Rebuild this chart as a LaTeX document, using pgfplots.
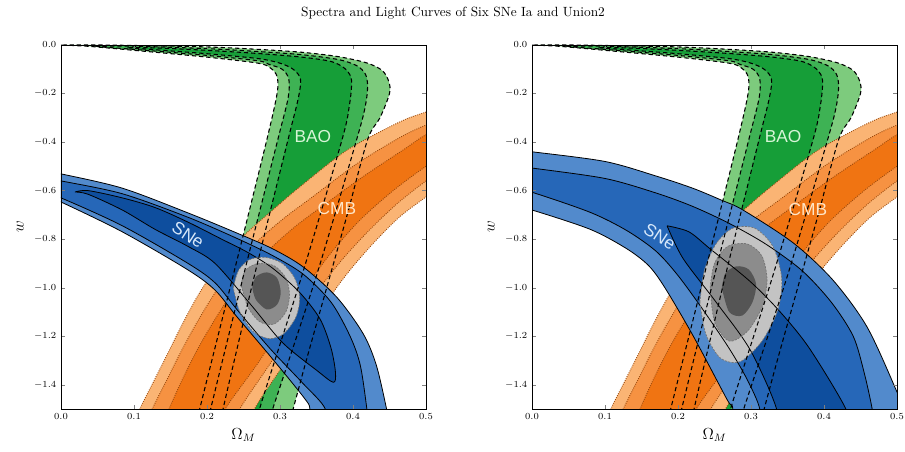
\documentclass[border=0pt]{standalone}
\usepackage{pgfplots}
\usepackage{pgfplotstable}
\usepackage{fontspec}
\pgfplotsset{compat=1.18}
\newfontfamily\labfont{Liberation Sans}

\definecolor{gA}{RGB}{125,203,125}
\definecolor{gB}{RGB}{62,178,84}
\definecolor{gC}{RGB}{22,158,56}
\definecolor{oA}{RGB}{250,180,116}
\definecolor{oB}{RGB}{246,146,66}
\definecolor{oC}{RGB}{240,116,18}
\definecolor{bA}{RGB}{82,138,204}
\definecolor{bB}{RGB}{38,103,184}
\definecolor{bC}{RGB}{14,78,158}
\definecolor{kA}{RGB}{195,195,195}
\definecolor{kB}{RGB}{140,140,140}
\definecolor{kC}{RGB}{85,85,85}
\definecolor{cmbdot}{RGB}{150,70,10}
\definecolor{txG}{RGB}{215,245,215}
\definecolor{txO}{RGB}{255,230,200}
\definecolor{txB}{RGB}{215,232,250}

% ---------------- BAO ----------------
\pgfplotstableread{
x y
0.183 -1.6
0.19 -1.5
0.24 -0.9
0.282 -0.39
0.296 -0.2
0.296 -0.13
0.287 -0.095
0.27 -0.075
0.2 -0.05
0.1 -0.022
0.04 -0.006
0.005 0.0
0.05 0.0
0.1 -0.002
0.2 -0.008
0.27 -0.018
0.33 -0.03
0.38 -0.048
0.419 -0.074
0.44 -0.105
0.449 -0.15
0.45 -0.2
0.437 -0.3
0.42 -0.39
0.392 -0.7
0.364 -1.0
0.336 -1.3
0.318 -1.5
0.309 -1.6
}\baoA
\pgfplotstableread{
x y
0.198 -1.6
0.205 -1.5
0.25 -0.95
0.297 -0.39
0.311 -0.22
0.312 -0.14
0.303 -0.1
0.285 -0.08
0.27 -0.065
0.2 -0.043
0.1 -0.018
0.05 -0.006
0.1 -0.005
0.2 -0.015
0.27 -0.027
0.33 -0.04
0.38 -0.06
0.405 -0.085
0.417 -0.12
0.42 -0.17
0.417 -0.25
0.405 -0.39
0.35 -0.95
0.29 -1.5
0.28 -1.6
}\baoB
\pgfplotstableread{
x y
0.217 -1.6
0.222 -1.5
0.265 -0.95
0.311 -0.39
0.325 -0.22
0.328 -0.14
0.318 -0.1
0.3 -0.075
0.27 -0.056
0.2 -0.036
0.13 -0.02
0.09 -0.011
0.13 -0.012
0.2 -0.022
0.27 -0.035
0.33 -0.05
0.37 -0.068
0.388 -0.095
0.397 -0.13
0.398 -0.17
0.395 -0.25
0.385 -0.39
0.33 -0.95
0.272 -1.5
0.267 -1.6
}\baoC
% ---------------- CMB ----------------
\pgfplotstableread{
x y
0.095 -1.6
0.108 -1.5
0.128 -1.38
0.148 -1.26
0.168 -1.14
0.19 -1.02
0.215 -0.91
0.249 -0.79
0.29 -0.68
0.327 -0.585
0.392 -0.433
0.464 -0.317
0.5 -0.276
0.53 -0.245
0.53 -0.56
0.5 -0.626
0.464 -0.708
0.43 -0.81
0.396 -0.927
0.368 -1.04
0.335 -1.19
0.3 -1.34
0.265 -1.5
0.255 -1.6
}\cmbA
\pgfplotstableread{
x y
0.112 -1.6
0.125 -1.5
0.145 -1.38
0.165 -1.26
0.185 -1.15
0.207 -1.04
0.232 -0.93
0.265 -0.82
0.305 -0.715
0.345 -0.625
0.405 -0.49
0.465 -0.38
0.5 -0.33
0.53 -0.3
0.53 -0.5
0.5 -0.56
0.46 -0.655
0.42 -0.77
0.385 -0.885
0.355 -1.0
0.322 -1.15
0.285 -1.32
0.245 -1.5
0.235 -1.6
}\cmbB
\pgfplotstableread{
x y
0.135 -1.6
0.148 -1.5
0.166 -1.38
0.186 -1.26
0.205 -1.16
0.226 -1.06
0.252 -0.955
0.283 -0.85
0.32 -0.75
0.36 -0.66
0.415 -0.54
0.47 -0.43
0.5 -0.37
0.53 -0.34
0.53 -0.45
0.5 -0.5
0.455 -0.6
0.41 -0.72
0.373 -0.845
0.342 -0.97
0.308 -1.13
0.27 -1.31
0.225 -1.5
0.215 -1.6
}\cmbC
% ---------------- SNe left ----------------
\pgfplotstableread{
x y
-0.03 -0.515
0 -0.531
0.084 -0.59
0.174 -0.692
0.241 -0.775
0.29 -0.84
0.332 -0.915
0.378 -1.04
0.414 -1.19
0.432 -1.32
0.446 -1.5
0.452 -1.6
0.338 -1.6
0.341 -1.5
0.332 -1.45
0.286 -1.28
0.241 -1.12
0.211 -1.01
0.174 -0.927
0.084 -0.77
0 -0.647
-0.03 -0.61
}\snlA
\pgfplotstableread{
x y
-0.03 -0.545
0 -0.56
0.084 -0.613
0.174 -0.71
0.241 -0.797
0.29 -0.868
0.332 -0.945
0.37 -1.06
0.396 -1.2
0.41 -1.32
0.419 -1.5
0.422 -1.6
0.358 -1.6
0.362 -1.5
0.33 -1.39
0.286 -1.25
0.241 -1.09
0.211 -0.98
0.174 -0.9
0.084 -0.745
0 -0.63
-0.03 -0.6
}\snlB
\pgfplotstableread{
x y
0.019 -0.606
0.037 -0.6
0.084 -0.63
0.129 -0.67
0.174 -0.73
0.22 -0.8
0.256 -0.855
0.29 -0.92
0.327 -1.02
0.355 -1.13
0.37 -1.25
0.376 -1.35
0.373 -1.39
0.35 -1.34
0.304 -1.228
0.26 -1.07
0.211 -0.9
0.174 -0.83
0.129 -0.76
0.084 -0.68
0.037 -0.615
0.019 -0.606
}\snlC
% ---------------- SNe right ----------------
\pgfplotstableread{
x y
-0.03 -0.43
0 -0.44
0.1 -0.48
0.17 -0.54
0.22 -0.59
0.26 -0.64
0.289 -0.68
0.358 -0.816
0.412 -0.968
0.459 -1.162
0.5 -1.43
0.53 -1.65
0.27 -1.65
0.275 -1.5
0.267 -1.46
0.221 -1.2
0.182 -1.0
0.16 -0.91
0.13 -0.84
0.08 -0.76
0 -0.68
-0.03 -0.66
}\snrA
\pgfplotstableread{
x y
-0.03 -0.495
0 -0.507
0.1 -0.55
0.17 -0.61
0.22 -0.665
0.27 -0.735
0.32 -0.82
0.37 -0.93
0.41 -1.06
0.44 -1.2
0.455 -1.35
0.466 -1.5
0.47 -1.6
0.31 -1.6
0.312 -1.5
0.295 -1.38
0.27 -1.25
0.234 -1.09
0.2 -0.95
0.17 -0.85
0.13 -0.765
0.08 -0.69
0 -0.607
-0.03 -0.59
}\snrB
\pgfplotstableread{
x y
0.185 -0.745
0.215 -0.77
0.244 -0.84
0.299 -0.975
0.34 -1.1
0.38 -1.25
0.43 -1.5
0.435 -1.6
0.33 -1.6
0.335 -1.5
0.299 -1.257
0.253 -1.063
0.207 -0.88
0.185 -0.745
}\snrC
% ---------------- combined left ----------------
\pgfplotstableread{
x y
0.236 -1.0
0.243 -0.93
0.258 -0.885
0.28 -0.875
0.303 -0.9
0.32 -0.96
0.327 -1.04
0.322 -1.12
0.305 -1.19
0.285 -1.21
0.263 -1.18
0.245 -1.1
0.236 -1.0
}\grlA
\pgfplotstableread{
x y
0.247 -0.99
0.252 -0.93
0.27 -0.9
0.292 -0.91
0.308 -0.96
0.313 -1.03
0.308 -1.1
0.292 -1.15
0.272 -1.14
0.256 -1.08
0.247 -0.99
}\grlB
\pgfplotstableread{
x y
0.262 -1.0
0.267 -0.955
0.282 -0.937
0.296 -0.96
0.301 -1.02
0.296 -1.07
0.282 -1.09
0.267 -1.05
0.262 -1.0
}\grlC
% ---------------- combined right ----------------
\pgfplotstableread{
x y
0.23 -1.06
0.236 -0.93
0.252 -0.82
0.275 -0.755
0.305 -0.755
0.33 -0.83
0.342 -0.96
0.337 -1.09
0.315 -1.22
0.285 -1.305
0.258 -1.29
0.238 -1.19
0.23 -1.06
}\grrA
\pgfplotstableread{
x y
0.244 -1.0
0.25 -0.9
0.268 -0.83
0.295 -0.82
0.315 -0.87
0.322 -0.97
0.315 -1.08
0.295 -1.18
0.27 -1.22
0.25 -1.14
0.244 -1.0
}\grrB
\pgfplotstableread{
x y
0.26 -1.0
0.265 -0.94
0.28 -0.912
0.297 -0.925
0.307 -0.985
0.302 -1.06
0.288 -1.115
0.27 -1.1
0.26 -1.0
}\grrC

\pgfplotsset{
  panel/.style={
    scale only axis, width=273.75pt, height=273pt,
    xmin=0, xmax=0.5, ymin=-1.5, ymax=0,
    xtick={0,0.1,0.2,0.3,0.4,0.5},
    ytick={-1.4,-1.2,-1,-0.8,-0.6,-0.4,-0.2,0},
    tick align=inside, tick pos=both, major tick length=3pt,
    xticklabel style={/pgf/number format/fixed,/pgf/number format/fixed zerofill,/pgf/number format/precision=1},
    yticklabel style={/pgf/number format/fixed,/pgf/number format/fixed zerofill,/pgf/number format/precision=1},
    tick label style={font=\fontsize{7.5}{9}\selectfont},
    xlabel={$\Omega_M$}, ylabel={$w$},
    label style={font=\fontsize{12}{14}\selectfont},
    xlabel style={at={(axis description cs:0.5,-0.0714)},anchor=center},
    ylabel style={at={(axis description cs:-0.112,0.5)},anchor=center},
    axis line style={line width=0.6pt},
    axis on top,
  },
}
\tikzset{
  fillA/.style={draw=none, smooth, fill=#1},
  baoln/.style={draw=black, smooth, line width=0.8pt, dash pattern=on 3.2pt off 2.2pt},
  cmbln/.style={draw=cmbdot, smooth, line width=0.7pt, dash pattern=on 0.6pt off 1pt},
  snln/.style={draw=black, smooth, line width=0.6pt},
  grln/.style={draw=black!55, smooth, line width=0.5pt, dash pattern=on 1.5pt off 1pt},
  labtxt/.style={font=\labfont\fontsize{13}{15}\selectfont},
}

\begin{document}
\begin{tikzpicture}[x=1pt,y=1pt]
\path[use as bounding box] (0,0) rectangle (678.75,339);
\node[font=\fontsize{10}{12}\selectfont] at (339.75,329.25) {Spectra and Light Curves of Six SNe Ia and Union2};

% ================= LEFT =================
\begin{axis}[panel, at={(45.75pt,32.25pt)}, anchor=south west]
  \addplot[fillA=gA] table {\baoA};
  \addplot[fillA=gB] table {\baoB};
  \addplot[fillA=gC] table {\baoC};
  \addplot[fillA=oA] table {\cmbA};
  \addplot[fillA=oB] table {\cmbB};
  \addplot[fillA=oC] table {\cmbC};
  \addplot[cmbln] table {\cmbA};
  \addplot[cmbln] table {\cmbB};
  \addplot[cmbln] table {\cmbC};
  \addplot[fillA=bA] table {\snlA};
  \addplot[fillA=bB] table {\snlB};
  \addplot[fillA=bC] table {\snlC};
  \addplot[fillA=kA] table {\grlA};
  \addplot[fillA=kB] table {\grlB};
  \addplot[fillA=kC] table {\grlC};
  \addplot[snln] table {\snlA};
  \addplot[snln] table {\snlB};
  \addplot[snln] table {\snlC};
  \addplot[grln] table {\grlA};
  \addplot[grln] table {\grlB};
  \addplot[baoln] table {\baoA};
  \addplot[baoln] table {\baoB};
  \addplot[baoln] table {\baoC};
  \node[labtxt, text=txG] at (axis cs:0.345,-0.379) {BAO};
  \node[labtxt, text=txO] at (axis cs:0.378,-0.672) {CMB};
  \node[labtxt, text=txB, rotate=-33] at (axis cs:0.174,-0.783) {SNe};
\end{axis}

% ================= RIGHT =================
\begin{axis}[panel, at={(399pt,32.25pt)}, anchor=south west]
  \addplot[fillA=gA] table {\baoA};
  \addplot[fillA=gB] table {\baoB};
  \addplot[fillA=gC] table {\baoC};
  \addplot[fillA=oA] table {\cmbA};
  \addplot[fillA=oB] table {\cmbB};
  \addplot[fillA=oC] table {\cmbC};
  \addplot[cmbln] table {\cmbA};
  \addplot[cmbln] table {\cmbB};
  \addplot[cmbln] table {\cmbC};
  \addplot[fillA=bA] table {\snrA};
  \addplot[fillA=bB] table {\snrB};
  \addplot[fillA=bC] table {\snrC};
  \addplot[fillA=kA] table {\grrA};
  \addplot[fillA=kB] table {\grrB};
  \addplot[fillA=kC] table {\grrC};
  \addplot[snln] table {\snrA};
  \addplot[snln] table {\snrB};
  \addplot[snln] table {\snrC};
  \addplot[grln] table {\grrA};
  \addplot[grln] table {\grrB};
  \addplot[baoln] table {\baoA};
  \addplot[baoln] table {\baoB};
  \addplot[baoln] table {\baoC};
  \node[labtxt, text=txG] at (axis cs:0.344,-0.379) {BAO};
  \node[labtxt, text=txO] at (axis cs:0.378,-0.68) {CMB};
  \node[labtxt, text=txB, rotate=-33] at (axis cs:0.175,-0.79) {SNe};
\end{axis}
\end{tikzpicture}
\end{document}
